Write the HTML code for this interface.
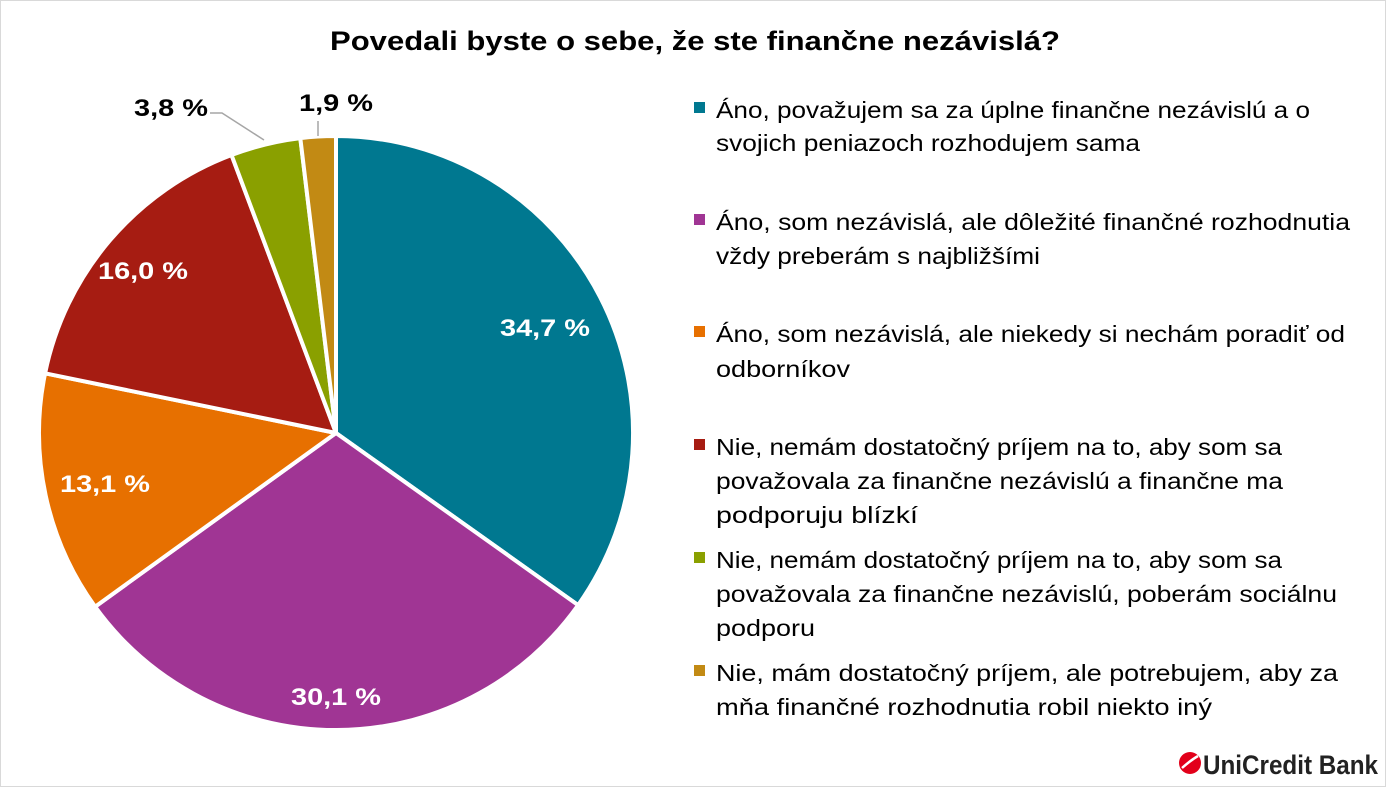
<!DOCTYPE html>
<html><head><meta charset="utf-8"><style>
html,body{margin:0;padding:0;background:#fff;}
body{width:1386px;height:787px;overflow:hidden;font-family:"Liberation Sans","DejaVu Sans",sans-serif;}
</style></head><body>
<svg width="1386" height="787" xmlns="http://www.w3.org/2000/svg" font-family="Liberation Sans, DejaVu Sans, sans-serif">
<rect x="0.5" y="0.5" width="1385" height="786" fill="#fff" stroke="#d9d9d9"/>
<text x="330" y="50" font-size="27" font-weight="bold" fill="#000" textLength="730" lengthAdjust="spacingAndGlyphs">Povedali byste o sebe, že ste finančne nezávislá?</text>
<g stroke="#fff" stroke-width="4" stroke-linejoin="round">
<path d="M336,433 L336,136 A297,297 0 0 1 578.1,605.1 Z" fill="#007890"/>
<path d="M336,433 L578.1,605.1 A297,297 0 0 1 95.1,606.7 Z" fill="#A03594"/>
<path d="M336,433 L95.1,606.7 A297,297 0 0 1 45.1,373.3 Z" fill="#E77000"/>
<path d="M336,433 L45.1,373.3 A297,297 0 0 1 231.5,155.0 Z" fill="#A61C12"/>
<path d="M336,433 L231.5,155.0 A297,297 0 0 1 300.3,138.1 Z" fill="#8AA000"/>
<path d="M336,433 L300.3,138.1 A297,297 0 0 1 336,136 Z" fill="#C28A14"/>
</g>
<polyline points="210,113 222,113 264,140" fill="none" stroke="#a6a6a6" stroke-width="1.5"/>
<line x1="318" y1="121" x2="318" y2="136" stroke="#a6a6a6" stroke-width="1.5"/>
<g font-size="24" font-weight="bold">
<text x="500" y="336" fill="#fff" textLength="90" lengthAdjust="spacingAndGlyphs">34,7 %</text>
<text x="291" y="705" fill="#fff" textLength="90" lengthAdjust="spacingAndGlyphs">30,1 %</text>
<text x="60" y="492" fill="#fff" textLength="90" lengthAdjust="spacingAndGlyphs">13,1 %</text>
<text x="98" y="279" fill="#fff" textLength="90" lengthAdjust="spacingAndGlyphs">16,0 %</text>
<text x="134" y="116" fill="#000" textLength="74" lengthAdjust="spacingAndGlyphs">3,8 %</text>
<text x="299" y="111" fill="#000" textLength="74" lengthAdjust="spacingAndGlyphs">1,9 %</text>
</g>
<g font-size="23" fill="#000">
<rect x="694" y="102" width="11" height="11" fill="#007890"/>
<text x="716" y="118" textLength="594" lengthAdjust="spacingAndGlyphs">Áno, považujem sa za úplne finančne nezávislú a o</text>
<text x="716" y="151" textLength="424" lengthAdjust="spacingAndGlyphs">svojich peniazoch rozhodujem sama</text>
<rect x="694" y="214" width="11" height="11" fill="#A03594"/>
<text x="716" y="230" textLength="634" lengthAdjust="spacingAndGlyphs">Áno, som nezávislá, ale dôležité finančné rozhodnutia</text>
<text x="716" y="264" textLength="324" lengthAdjust="spacingAndGlyphs">vždy preberám s najbližšími</text>
<rect x="694" y="326" width="11" height="11" fill="#E77000"/>
<text x="716" y="342" textLength="629" lengthAdjust="spacingAndGlyphs">Áno, som nezávislá, ale niekedy si nechám poradiť od</text>
<text x="716" y="377" textLength="134" lengthAdjust="spacingAndGlyphs">odborníkov</text>
<rect x="694" y="439" width="11" height="11" fill="#A61C12"/>
<text x="716" y="455" textLength="566" lengthAdjust="spacingAndGlyphs">Nie, nemám dostatočný príjem na to, aby som sa</text>
<text x="716" y="489" textLength="567" lengthAdjust="spacingAndGlyphs">považovala za finančne nezávislú a finančne ma</text>
<text x="716" y="523" textLength="202" lengthAdjust="spacingAndGlyphs">podporuju blízkí</text>
<rect x="694" y="552" width="11" height="11" fill="#8AA000"/>
<text x="716" y="568" textLength="566" lengthAdjust="spacingAndGlyphs">Nie, nemám dostatočný príjem na to, aby som sa</text>
<text x="716" y="602" textLength="621" lengthAdjust="spacingAndGlyphs">považovala za finančne nezávislú, poberám sociálnu</text>
<text x="716" y="636" textLength="99" lengthAdjust="spacingAndGlyphs">podporu</text>
<rect x="694" y="665" width="11" height="11" fill="#C28A14"/>
<text x="716" y="681" textLength="622" lengthAdjust="spacingAndGlyphs">Nie, mám dostatočný príjem, ale potrebujem, aby za</text>
<text x="716" y="715" textLength="496" lengthAdjust="spacingAndGlyphs">mňa finančné rozhodnutia robil niekto iný</text>
</g>
<circle cx="1190" cy="763" r="11" fill="#E2001A"/>
<path d="M1182,768 Q1191,760 1198,756" stroke="#fff" stroke-width="2.5" fill="none"/>
<text x="1203" y="774" font-size="27" font-weight="bold" fill="#222" textLength="175" lengthAdjust="spacingAndGlyphs">UniCredit Bank</text>
</svg>
</body></html>
